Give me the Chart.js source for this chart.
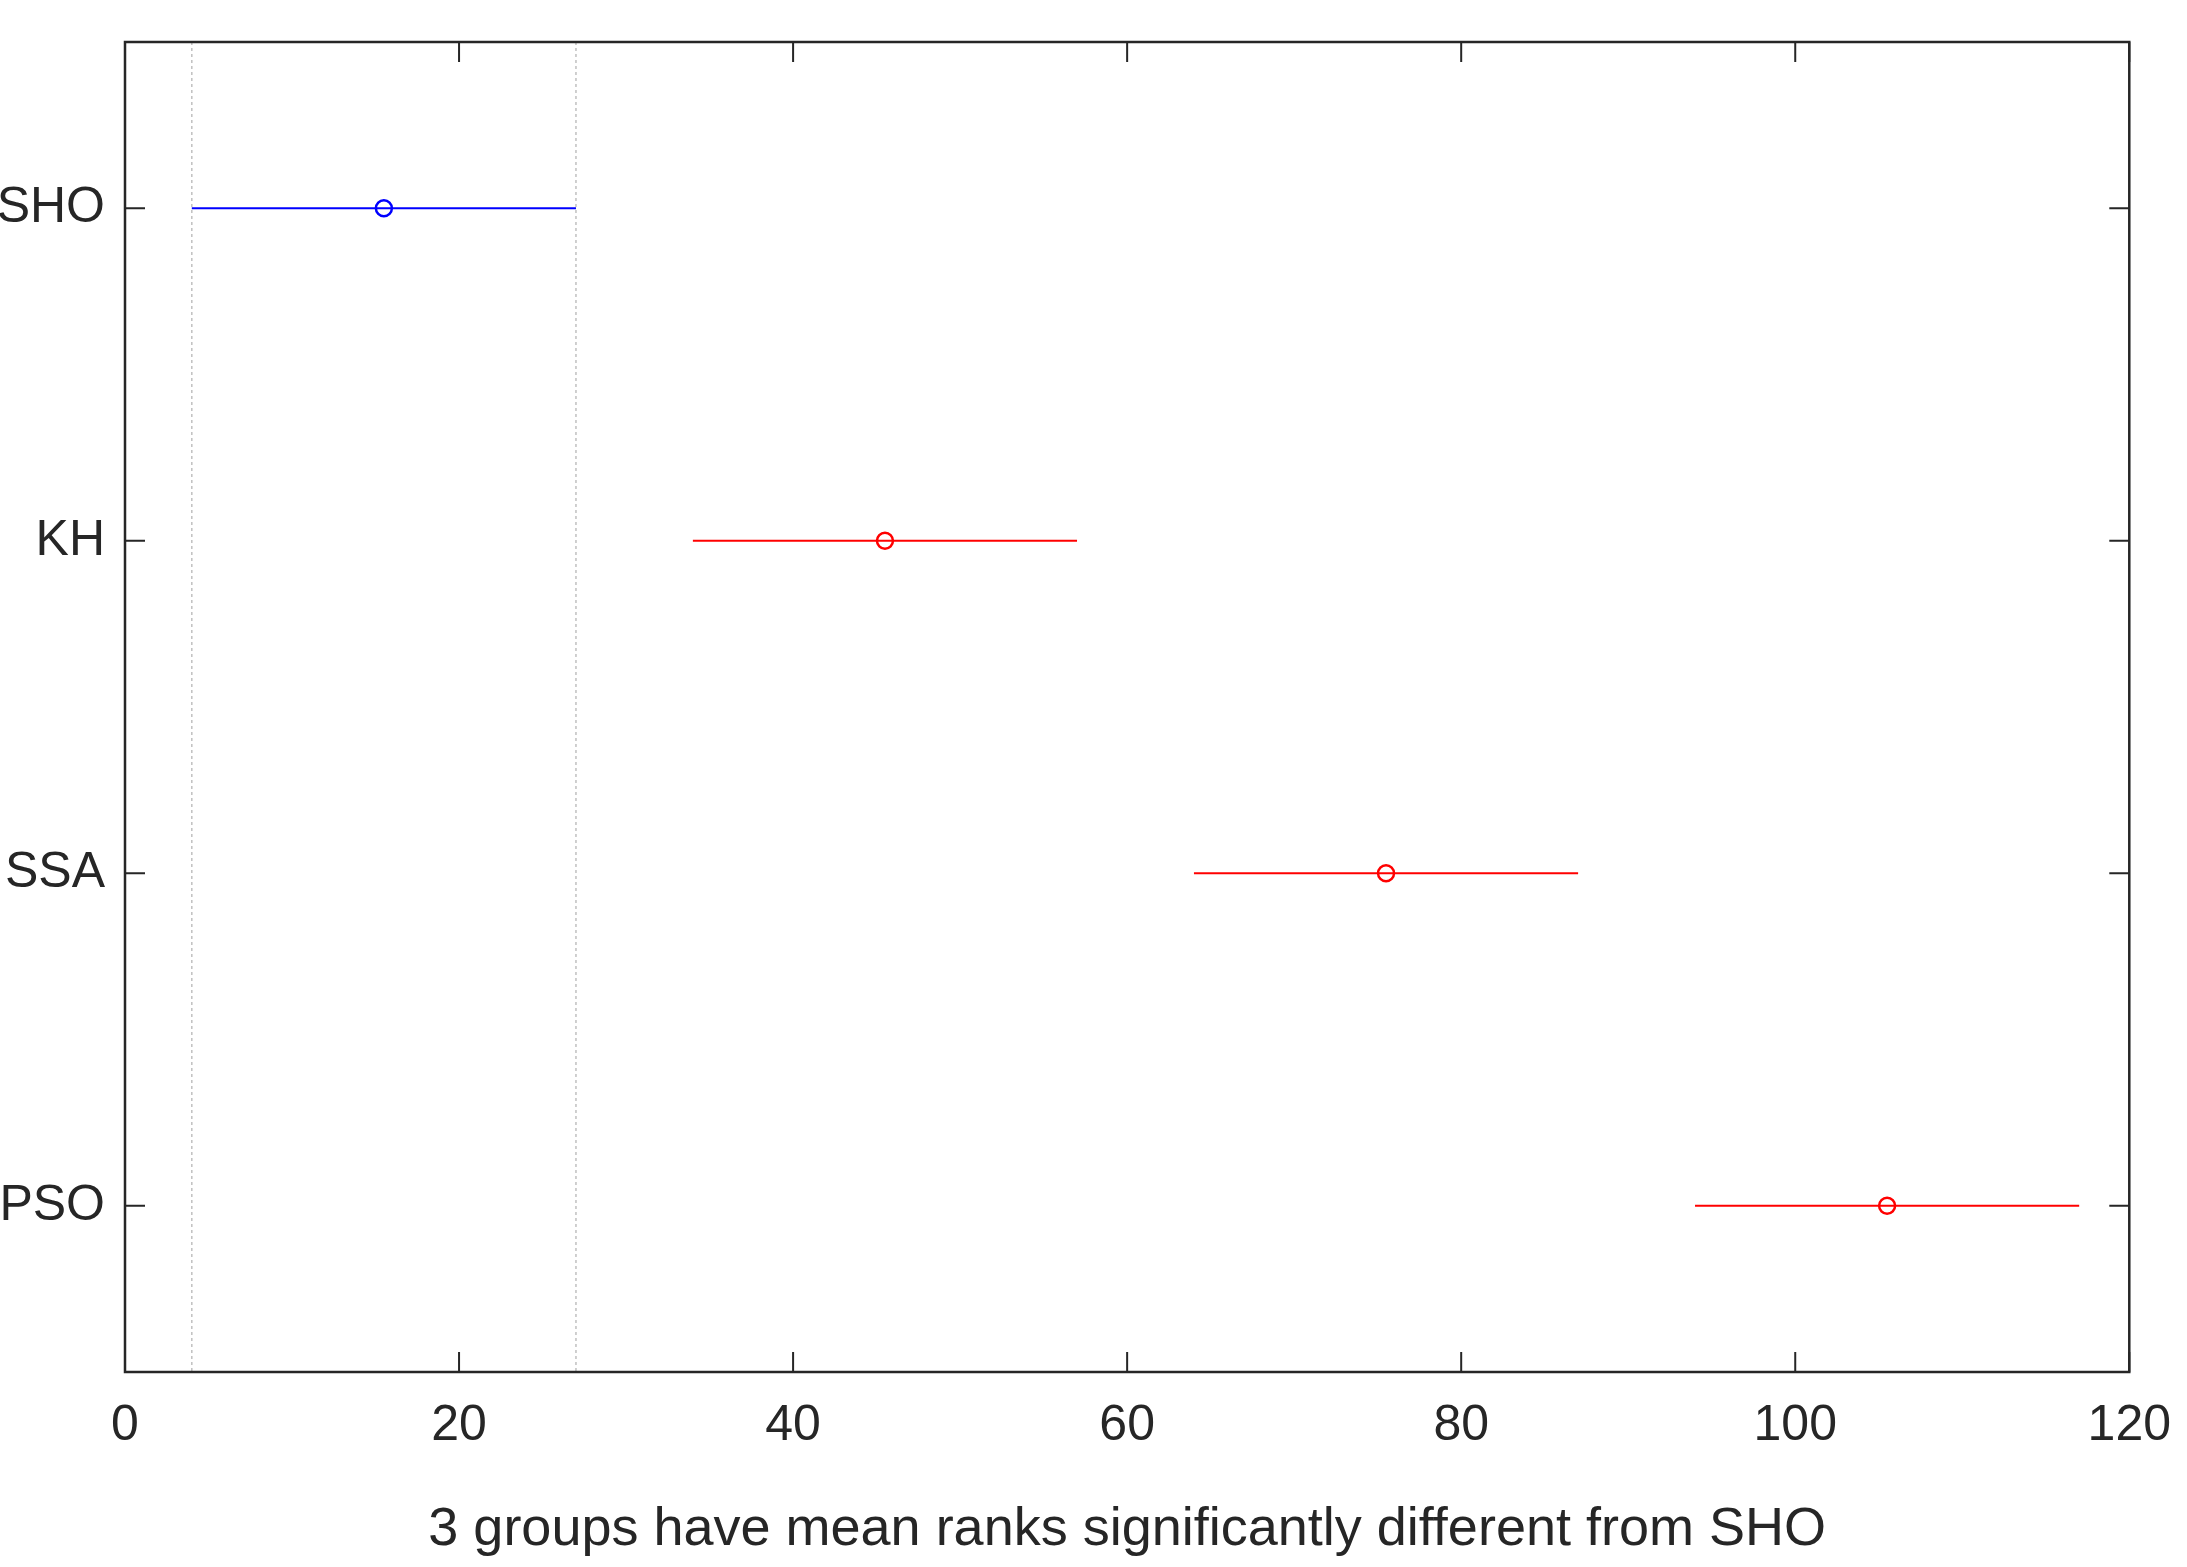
<!DOCTYPE html>
<html>
<head>
<meta charset="utf-8">
<script src="https://cdn.jsdelivr.net/npm/chart.js@4"></script>
<style>
  html, body { margin: 0; padding: 0; background: #fff; }
  #wrap { width: 2187px; height: 1567px; }
</style>
</head>
<body>
<div id="wrap"><canvas id="c"></canvas></div>
<script>
// groups, top to bottom
const groups = ["SHO", "KH", "SSA", "PSO"];
const means = [15.5, 45.5, 75.5, 105.5];
const lows = [4, 34, 64, 94];
const highs = [27, 57, 87, 117];
const colors = ["#0000ff", "#ff0000", "#ff0000", "#ff0000"];
const xTicks = [0, 20, 40, 60, 80, 100, 120];
const refLines = [4, 27]; // interval of SHO

const FONT = "'Liberation Sans Narrow', 'Liberation Sans', sans-serif";
const TEXT = "#262626";

const datasets = [];
groups.forEach((g, i) => {
  datasets.push({
    type: "line",
    data: [{ x: lows[i], y: i + 1 }, { x: highs[i], y: i + 1 }],
    borderColor: colors[i], borderWidth: 2, pointRadius: 0
  });
});
refLines.forEach(v => {
  datasets.push({
    type: "line",
    data: [{ x: v, y: 0.5 }, { x: v, y: 4.5 }],
    borderColor: "#c0c0c0", borderWidth: 1.5, borderDash: [3, 3], pointRadius: 0
  });
});
datasets.push({
  type: "scatter",
  data: means.map((m, i) => ({ x: m, y: i + 1 })),
  pointStyle: "circle", pointRadius: 8, borderWidth: 2.5,
  pointBorderColor: colors, pointBackgroundColor: "rgba(0,0,0,0)"
});

// inside tick marks + box, matlab style
const boxTicks = {
  id: "boxTicks",
  afterDatasetsDraw(chart) {
    const { ctx, chartArea: a, scales: { x, y } } = chart;
    ctx.save();
    ctx.strokeStyle = TEXT;
    ctx.lineWidth = 2;
    const L = 20;
    xTicks.forEach(v => {
      const px = x.getPixelForValue(v);
      ctx.beginPath();
      ctx.moveTo(px, a.bottom); ctx.lineTo(px, a.bottom - L);
      ctx.moveTo(px, a.top); ctx.lineTo(px, a.top + L);
      ctx.stroke();
    });
    groups.forEach((g, i) => {
      const py = y.getPixelForValue(i + 1);
      ctx.beginPath();
      ctx.moveTo(a.left, py); ctx.lineTo(a.left + L, py);
      ctx.moveTo(a.right, py); ctx.lineTo(a.right - L, py);
      ctx.stroke();
    });
    ctx.lineWidth = 2.5;
    ctx.strokeRect(a.left, a.top, a.right - a.left, a.bottom - a.top);
    ctx.restore();
  }
};

new Chart(document.getElementById("c"), {
  data: { datasets },
  plugins: [boxTicks],
  options: {
    responsive: true,
    maintainAspectRatio: false,
    animation: false,
    layout: { padding: { top: 16, right: 32, left: 0, bottom: 0 } },
    plugins: { legend: { display: false }, tooltip: { enabled: false } },
    scales: {
      x: {
        type: "linear", min: 0, max: 120,
        afterBuildTicks: s => { s.ticks = xTicks.map(v => ({ value: v })); },
        afterFit: s => { s.height = 195; },
        grid: { display: false },
        border: { display: false },
        ticks: { color: TEXT, font: { family: FONT, size: 50 }, padding: 16, maxRotation: 0 },
        title: {
          display: true, text: "3 groups have mean ranks significantly different from SHO",
          color: TEXT, font: { family: FONT, size: 54 }, padding: { top: 4 }
        }
      },
      y: {
        type: "linear", min: 0.5, max: 4.5, reverse: true,
        afterBuildTicks: s => { s.ticks = groups.map((g, i) => ({ value: i + 1 })); },
        afterFit: s => { s.width = 125; },
        grid: { display: false },
        border: { display: false },
        ticks: {
          color: TEXT, font: { family: FONT, size: 50 }, padding: 12,
          callback: v => groups[Math.round(v) - 1]
        }
      }
    }
  }
});
</script>
</body>
</html>
